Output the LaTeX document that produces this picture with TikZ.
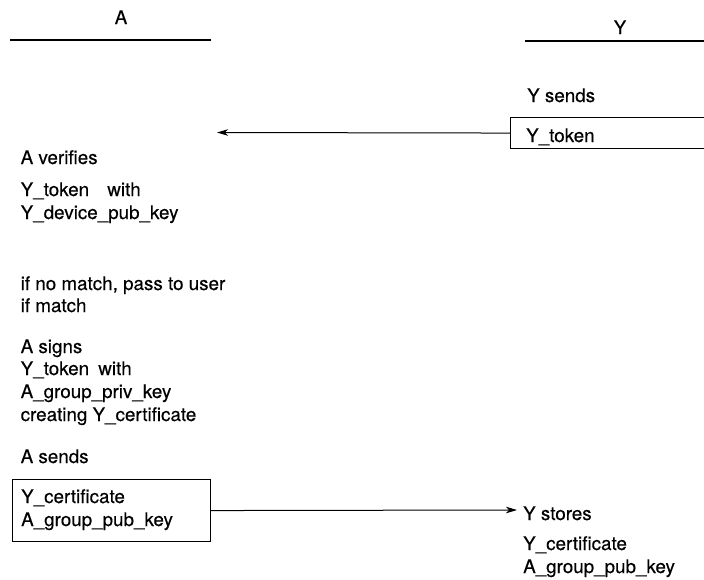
\documentclass[tikz,border=0pt]{standalone}
\usepackage{fontspec}
\setmainfont{TeX Gyre Heros}[FakeBold=0.35]
\usetikzlibrary{arrows.meta}

\begin{document}
\begin{tikzpicture}[x=1pt,y=-1pt,
    every node/.style={font=\fontsize{18.8}{22.7}\selectfont},
    txt/.style={anchor=base west,inner sep=0pt},
    head/.style={anchor=base,inner sep=0pt},
    rule/.style={line width=1.1pt},
    msgbox/.style={draw,line width=1.1pt,anchor=north west,inner sep=0pt},
    msg/.style={line width=1pt,-{Stealth[length=11pt,width=6.5pt,inset=3pt]}}]
  \useasboundingbox (0,0) rectangle (704,579);

  % party headers
  \node[head] (hA) at (121,24) {A};
  \coordinate (ruleA1) at (10,40);
  \coordinate (ruleA2) at (211,40);
  \draw[rule] (ruleA1) -- (ruleA2);
  \node[head] (hY) at (620,34) {Y};
  \coordinate (ruleY1) at (525,41);
  \coordinate (ruleY2) at (710,41);
  \draw[rule] (ruleY1) -- (ruleY2);

  % Y sends its token
  \node[txt] (ysends) at (527,102) {Y sends};
  \node[msgbox,minimum width=204pt,minimum height=31pt] (tokbox) at (510,117) {};
  \node[txt] (toktxt) at (526,142) {Y\_token};
  \coordinate (tokend) at (217,132.5);
  \draw[msg] (tokbox.west) -- (tokend);

  % A verifies
  \node[txt] (averif) at (20.5,164) {A verifies};
  \node[txt] (v1) at (20.5,196) {Y\_token\hspace{13pt} with};
  \node[txt] (v2) at (20.5,219) {Y\_device\_pub\_key};

  \node[txt] (nomatch) at (20.5,290) {if no match, pass to user};
  \node[txt] (match) at (20.5,312) {if match};

  % A signs
  \node[txt] (asigns) at (20.5,353) {A signs};
  \node[txt] (s1) at (20.5,375) {Y\_token\hspace{4pt} with};
  \node[txt] (s2) at (20.5,398) {A\_group\_priv\_key};
  \node[txt] (s3) at (20.5,421) {creating Y\_certificate};

  % A sends the certificate
  \node[txt] (asends) at (20.5,463) {A sends};
  \node[msgbox,minimum width=198pt,minimum height=62pt] (certbox) at (12,479) {};
  \node[txt] (c1) at (21,503) {Y\_certificate};
  \node[txt] (c2) at (21,526) {A\_group\_pub\_key};
  \coordinate (certend) at (517,510);
  \draw[msg] (certbox.east) -- (certend);

  % Y stores
  \node[txt] (ystores) at (523,520) {Y stores};
  \node[txt] (y1) at (523,550) {Y\_certificate};
  \node[txt] (y2) at (523,573) {A\_group\_pub\_key};
\end{tikzpicture}
\end{document}
